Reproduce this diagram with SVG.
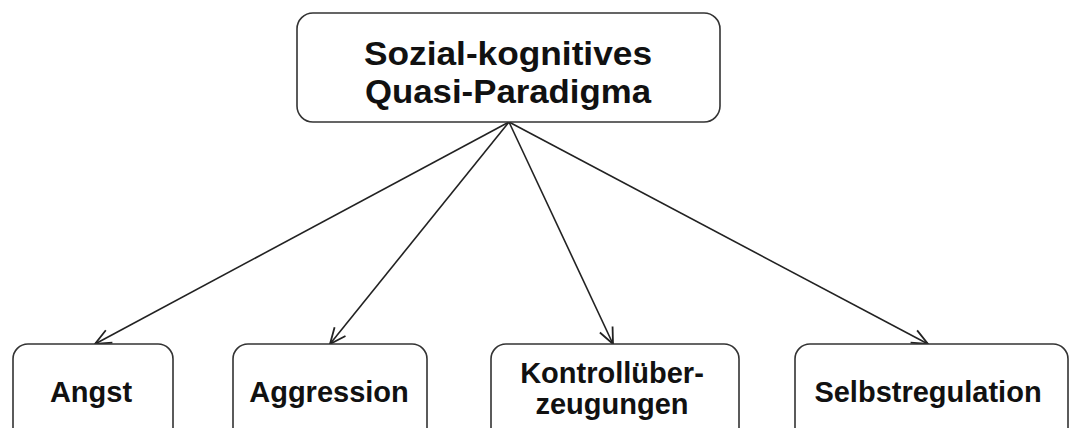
<svg xmlns="http://www.w3.org/2000/svg" width="1071" height="428" viewBox="0 0 1071 428">
<style>
.box{fill:#fff;stroke:#333;stroke-width:1.6}
.t{font-family:"Liberation Sans",Arial,sans-serif;font-weight:bold;fill:#111;text-anchor:middle}
.title{font-size:34px}
.lbl{font-size:29px}
.edge{stroke:#222;stroke-width:1.6;fill:none;marker-end:url(#arr)}
</style>
<defs>
<marker id="arr" viewBox="0 0 20 20" refX="19" refY="10" markerWidth="20" markerHeight="20" markerUnits="userSpaceOnUse" orient="auto">
<path d="M3,3 L19,10 L3,17" fill="none" stroke="#222" stroke-width="1.8"/>
</marker>
</defs>
<rect width="1071" height="428" fill="#fff"/>
<g id="connectors">
<line class="edge" x1="509" y1="122" x2="95" y2="344"/>
<line class="edge" x1="509" y1="122" x2="330" y2="344"/>
<line class="edge" x1="509" y1="122" x2="613" y2="344"/>
<line class="edge" x1="509" y1="122" x2="928" y2="344"/>
</g>
<g id="node-root">
<rect class="box" x="297" y="13" width="423" height="109" rx="16"/>
<text class="t title" x="508" y="65" textLength="288" lengthAdjust="spacingAndGlyphs">Sozial-kognitives</text>
<text class="t title" x="508" y="103" textLength="286" lengthAdjust="spacingAndGlyphs">Quasi-Paradigma</text>
</g>
<g id="node-angst">
<rect class="box" x="13" y="344" width="160" height="110" rx="15"/>
<text class="t lbl" x="91" y="402">Angst</text>
</g>
<g id="node-aggression">
<rect class="box" x="233" y="344" width="194" height="110" rx="15"/>
<text class="t lbl" x="329" y="402">Aggression</text>
</g>
<g id="node-kontroll">
<rect class="box" x="491" y="344" width="248" height="110" rx="15"/>
<text class="t lbl" x="612" y="383">Kontrollüber-</text>
<text class="t lbl" x="612" y="414">zeugungen</text>
</g>
<g id="node-selbst">
<rect class="box" x="795" y="344" width="273" height="110" rx="15"/>
<text class="t lbl" x="928" y="402">Selbstregulation</text>
</g>
</svg>
